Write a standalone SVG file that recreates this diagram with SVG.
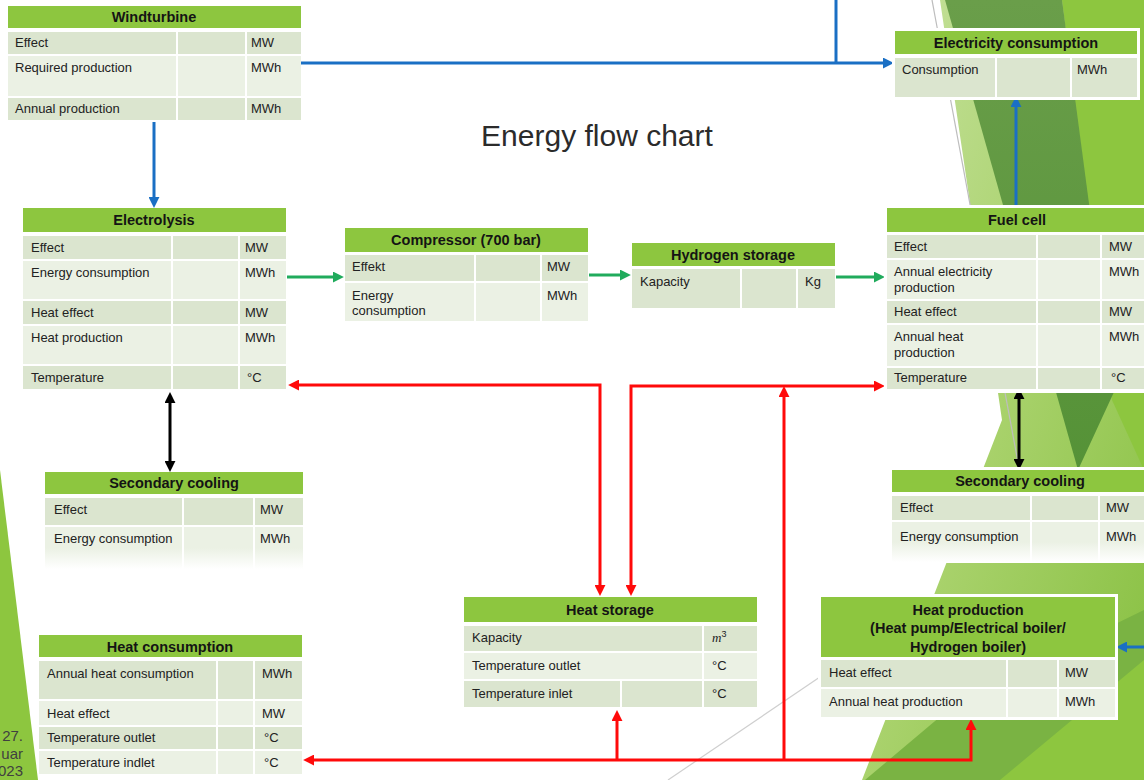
<svg xmlns="http://www.w3.org/2000/svg" width="1144" height="780" viewBox="0 0 1144 780">
  <style>
    .hdr { fill: #8dc63f; }
    .rd { fill: #dbe5cf; }
    .rl { fill: #ebf1e4; }
    .halo { fill: #ffffff; }
    .div { stroke: #ffffff; stroke-width: 2; }
    .th { font-family: "Liberation Sans", Arial, sans-serif; font-size: 14.5px; font-weight: bold; fill: #141414; text-anchor: middle; }
    .t { font-family: "Liberation Sans", Arial, sans-serif; font-size: 13px; fill: #222222; }
    .ln { fill: none; stroke-width: 3; }
    .blue { stroke: #1a6fc4; }
    .green { stroke: #20ab5c; }
    .red { stroke: #ff0a0a; }
    .black { stroke: #000000; }
  </style>
  <defs>
    <marker id="ah-blue" markerUnits="userSpaceOnUse" markerWidth="11" markerHeight="11" viewBox="0 0 10 10" refX="1" refY="5" orient="auto-start-reverse"><path d="M0,0 L10,5 L0,10 z" fill="#1a6fc4"/></marker>
    <marker id="ah-green" markerUnits="userSpaceOnUse" markerWidth="11" markerHeight="11" viewBox="0 0 10 10" refX="1" refY="5" orient="auto-start-reverse"><path d="M0,0 L10,5 L0,10 z" fill="#20ab5c"/></marker>
    <marker id="ah-red" markerUnits="userSpaceOnUse" markerWidth="11" markerHeight="11" viewBox="0 0 10 10" refX="1" refY="5" orient="auto-start-reverse"><path d="M0,0 L10,5 L0,10 z" fill="#ff0a0a"/></marker>
    <marker id="ah-black" markerUnits="userSpaceOnUse" markerWidth="11" markerHeight="11" viewBox="0 0 10 10" refX="1" refY="5" orient="auto-start-reverse"><path d="M0,0 L10,5 L0,10 z" fill="#000000"/></marker>
    <linearGradient id="facet-light" x1="0" y1="0" x2="1" y2="1">
      <stop offset="0" stop-color="#c9e3a2"/>
      <stop offset="0.5" stop-color="#a9d26c"/>
      <stop offset="1" stop-color="#86bf3f"/>
    </linearGradient>
    <linearGradient id="facet-dark" x1="0" y1="0" x2="0" y2="1">
      <stop offset="0" stop-color="#6a9e4a"/>
      <stop offset="1" stop-color="#559237"/>
    </linearGradient>
    <linearGradient id="fade-row" x1="0" y1="0" x2="0" y2="1">
      <stop offset="0" stop-color="#ebf1e4"/>
      <stop offset="0.5" stop-color="#ebf1e4"/>
      <stop offset="1" stop-color="#ebf1e4" stop-opacity="0"/>
    </linearGradient>
  </defs>

  <!-- slide background -->
  <rect x="0" y="0" width="1144" height="780" fill="#ffffff"/>
  <g id="background">
    <polygon points="940,0 1144,0 1144,780 862,780 1002,420" fill="url(#facet-light)"/>
    <polygon points="1062,0 1144,0 1144,470 1112,400" fill="#8dc63f"/>
    <polygon points="945,0 1062,0 1114,392 1078,470" fill="url(#facet-dark)"/>
    <polygon points="865,780 1144,780 1144,610 960,700" fill="#7ab343"/>
    <polygon points="1000,780 1144,780 1144,660" fill="#8dc63f"/>
    <line x1="932" y1="0" x2="1025" y2="500" stroke="#bdbdbd" stroke-width="1.2"/>
    <line x1="668" y1="780" x2="845" y2="660" stroke="#cfcfcf" stroke-width="1.2"/>
    <polygon points="0,470 38,780 0,780" fill="#8dc63f"/>
    <!-- date footer -->
    <g font-family="Liberation Sans, Arial, sans-serif" font-size="15" fill="#404040" text-anchor="end">
      <text x="23" y="741">27.</text>
      <text x="23" y="759">uar</text>
      <text x="23" y="776">023</text>
    </g>
  </g>

  <text id="title" x="597" y="146" font-family="Liberation Sans, Arial, sans-serif" font-size="30" fill="#2b2b2b" text-anchor="middle">Energy flow chart</text>

  <!-- connectors -->
  <g id="connectors">
    <path class="ln blue" d="M836,0 V63"/>
    <path class="ln blue" d="M300,63 H884" marker-end="url(#ah-blue)"/>
    <path class="ln blue" d="M154,122 V198" marker-end="url(#ah-blue)"/>
    <path class="ln blue" d="M1016,207 V106" marker-end="url(#ah-blue)"/>
    <path class="ln blue" d="M1144,647 H1126" marker-end="url(#ah-blue)"/>

    <path class="ln green" d="M287,277 H334" marker-end="url(#ah-green)"/>
    <path class="ln green" d="M589,275 H621" marker-end="url(#ah-green)"/>
    <path class="ln green" d="M836,277 H875" marker-end="url(#ah-green)"/>

    <path class="ln red" d="M298,385 H600 V586" marker-start="url(#ah-red)" marker-end="url(#ah-red)"/>
    <path class="ln red" d="M631,586 V386 H875" marker-start="url(#ah-red)" marker-end="url(#ah-red)"/>
    <path class="ln red" d="M784,760 V396" marker-end="url(#ah-red)"/>
    <path class="ln red" d="M971,729 V760 H313" marker-start="url(#ah-red)" marker-end="url(#ah-red)"/>
    <path class="ln red" d="M617,760 V720" marker-end="url(#ah-red)"/>

    <path class="ln black" d="M170,402 V462" marker-start="url(#ah-black)" marker-end="url(#ah-black)"/>
    <path class="ln black" d="M1019,398 V460" marker-start="url(#ah-black)" marker-end="url(#ah-black)"/>
  </g>

  <!-- Windturbine -->
  <g id="windturbine">
    <rect class="hdr" x="8" y="6" width="293" height="22"/>
    <rect class="rd" x="8" y="32" width="293" height="22"/>
    <rect class="rl" x="8" y="56" width="293" height="40"/>
    <rect class="rd" x="8" y="98" width="293" height="22"/>
    <line class="div" x1="177" y1="32" x2="177" y2="120"/>
    <line class="div" x1="246" y1="32" x2="246" y2="120"/>
    <text class="th" x="154" y="22">Windturbine</text>
    <text class="t" x="15" y="47">Effect</text>
    <text class="t" x="251" y="47">MW</text>
    <text class="t" x="15" y="72">Required production</text>
    <text class="t" x="251" y="72">MWh</text>
    <text class="t" x="15" y="113">Annual production</text>
    <text class="t" x="251" y="113">MWh</text>
  </g>

  <!-- Electricity consumption -->
  <g id="electricity-consumption">
    <rect class="halo" x="892" y="28" width="248" height="72"/>
    <rect class="hdr" x="895" y="31" width="242" height="23"/>
    <rect class="rd" x="895" y="58" width="242" height="39"/>
    <line class="div" x1="996" y1="58" x2="996" y2="97"/>
    <line class="div" x1="1071" y1="58" x2="1071" y2="97"/>
    <text class="th" x="1016" y="48">Electricity consumption</text>
    <text class="t" x="902" y="74">Consumption</text>
    <text class="t" x="1077" y="74">MWh</text>
  </g>

  <!-- Electrolysis -->
  <g id="electrolysis">
    <rect class="hdr" x="23" y="208" width="263" height="24"/>
    <rect class="rd" x="23" y="236" width="263" height="23"/>
    <rect class="rl" x="23" y="261" width="263" height="38"/>
    <rect class="rd" x="23" y="301" width="263" height="23"/>
    <rect class="rl" x="23" y="326" width="263" height="38"/>
    <rect class="rd" x="23" y="366" width="263" height="23"/>
    <line class="div" x1="172" y1="236" x2="172" y2="389"/>
    <line class="div" x1="239" y1="236" x2="239" y2="389"/>
    <text class="th" x="154" y="225">Electrolysis</text>
    <text class="t" x="31" y="252">Effect</text>
    <text class="t" x="245" y="252">MW</text>
    <text class="t" x="31" y="277">Energy consumption</text>
    <text class="t" x="245" y="277">MWh</text>
    <text class="t" x="31" y="317">Heat effect</text>
    <text class="t" x="245" y="317">MW</text>
    <text class="t" x="31" y="342">Heat production</text>
    <text class="t" x="245" y="342">MWh</text>
    <text class="t" x="31" y="382">Temperature</text>
    <text class="t" x="247" y="382">°C</text>
  </g>

  <!-- Compressor -->
  <g id="compressor">
    <rect class="hdr" x="345" y="228" width="243" height="24"/>
    <rect class="rd" x="345" y="255" width="243" height="26"/>
    <rect class="rl" x="345" y="283" width="243" height="38"/>
    <line class="div" x1="475" y1="255" x2="475" y2="321"/>
    <line class="div" x1="541" y1="255" x2="541" y2="321"/>
    <text class="th" x="466" y="245">Compressor (700 bar)</text>
    <text class="t" x="352" y="271">Effekt</text>
    <text class="t" x="547" y="271">MW</text>
    <text class="t" x="352" y="300">Energy</text>
    <text class="t" x="352" y="315">consumption</text>
    <text class="t" x="547" y="300">MWh</text>
  </g>

  <!-- Hydrogen storage -->
  <g id="hydrogen-storage">
    <rect class="hdr" x="632" y="243" width="203" height="23"/>
    <rect class="rd" x="632" y="269" width="203" height="39"/>
    <line class="div" x1="741" y1="269" x2="741" y2="308"/>
    <line class="div" x1="797" y1="269" x2="797" y2="308"/>
    <text class="th" x="733" y="260">Hydrogen storage</text>
    <text class="t" x="640" y="286">Kapacity</text>
    <text class="t" x="805" y="286">Kg</text>
  </g>

  <!-- Fuel cell -->
  <g id="fuel-cell">
    <rect class="halo" x="884" y="205" width="266" height="188"/>
    <rect class="hdr" x="887" y="208" width="263" height="24"/>
    <rect class="rd" x="887" y="235" width="263" height="23"/>
    <rect class="rl" x="887" y="260" width="263" height="39"/>
    <rect class="rd" x="887" y="301" width="263" height="22"/>
    <rect class="rl" x="887" y="325" width="263" height="41"/>
    <rect class="rd" x="887" y="368" width="263" height="21"/>
    <line class="div" x1="1037" y1="235" x2="1037" y2="389"/>
    <line class="div" x1="1101" y1="235" x2="1101" y2="389"/>
    <text class="th" x="1017" y="225">Fuel cell</text>
    <text class="t" x="894" y="251">Effect</text>
    <text class="t" x="1109" y="251">MW</text>
    <text class="t" x="894" y="276">Annual electricity</text>
    <text class="t" x="894" y="292">production</text>
    <text class="t" x="1109" y="276">MWh</text>
    <text class="t" x="894" y="316">Heat effect</text>
    <text class="t" x="1109" y="316">MW</text>
    <text class="t" x="894" y="341">Annual heat</text>
    <text class="t" x="894" y="357">production</text>
    <text class="t" x="1109" y="341">MWh</text>
    <text class="t" x="894" y="382">Temperature</text>
    <text class="t" x="1111" y="382">°C</text>
  </g>

  <!-- Secondary cooling (electrolysis side) -->
  <g id="secondary-cooling-left">
    <rect class="hdr" x="45" y="472" width="258" height="22"/>
    <rect class="rd" x="45" y="498" width="258" height="27"/>
    <rect x="45" y="527" width="258" height="42" fill="url(#fade-row)"/>
    <line class="div" x1="183" y1="498" x2="183" y2="569"/>
    <line class="div" x1="254" y1="498" x2="254" y2="569"/>
    <text class="th" x="174" y="488">Secondary cooling</text>
    <text class="t" x="54" y="514">Effect</text>
    <text class="t" x="260" y="514">MW</text>
    <text class="t" x="54" y="543">Energy consumption</text>
    <text class="t" x="260" y="543">MWh</text>
  </g>

  <!-- Secondary cooling (fuel cell side) -->
  <g id="secondary-cooling-right">
    <rect class="halo" x="889" y="467" width="261" height="96"/>
    <rect class="hdr" x="892" y="470" width="258" height="22"/>
    <rect class="rd" x="892" y="496" width="258" height="24"/>
    <rect x="892" y="522" width="258" height="40" fill="url(#fade-row)"/>
    <line class="div" x1="1031" y1="496" x2="1031" y2="562"/>
    <line class="div" x1="1099" y1="496" x2="1099" y2="562"/>
    <text class="th" x="1020" y="486">Secondary cooling</text>
    <text class="t" x="900" y="512">Effect</text>
    <text class="t" x="1106" y="512">MW</text>
    <text class="t" x="900" y="541">Energy consumption</text>
    <text class="t" x="1106" y="541">MWh</text>
  </g>

  <!-- Heat storage -->
  <g id="heat-storage">
    <rect class="hdr" x="464" y="597" width="293" height="25"/>
    <rect class="rd" x="464" y="626" width="293" height="25"/>
    <rect class="rl" x="464" y="653" width="293" height="26"/>
    <rect class="rd" x="464" y="681" width="293" height="26"/>
    <line class="div" x1="703" y1="626" x2="703" y2="707"/>
    <line class="div" x1="621" y1="681" x2="621" y2="707"/>
    <text class="th" x="610" y="615">Heat storage</text>
    <text class="t" x="472" y="642">Kapacity</text>
    <text class="t" x="712" y="642"><tspan font-family="Liberation Serif, serif" font-style="italic">m</tspan><tspan dy="-5" font-size="9">3</tspan></text>
    <text class="t" x="472" y="670">Temperature outlet</text>
    <text class="t" x="712" y="670">°C</text>
    <text class="t" x="472" y="698">Temperature inlet</text>
    <text class="t" x="712" y="698">°C</text>
  </g>

  <!-- Heat production -->
  <g id="heat-production">
    <rect class="halo" x="818" y="594" width="300" height="126"/>
    <rect class="hdr" x="821" y="597" width="294" height="60"/>
    <rect class="rd" x="821" y="660" width="294" height="27"/>
    <rect class="rl" x="821" y="689" width="294" height="28"/>
    <line class="div" x1="1007" y1="660" x2="1007" y2="717"/>
    <line class="div" x1="1058" y1="660" x2="1058" y2="717"/>
    <text class="th" x="968" y="615">Heat production</text>
    <text class="th" x="968" y="633">(Heat pump/Electrical boiler/</text>
    <text class="th" x="968" y="652">Hydrogen boiler)</text>
    <text class="t" x="829" y="677">Heat effect</text>
    <text class="t" x="1065" y="677">MW</text>
    <text class="t" x="829" y="706">Annual heat production</text>
    <text class="t" x="1065" y="706">MWh</text>
  </g>

  <!-- Heat consumption -->
  <g id="heat-consumption">
    <rect class="hdr" x="39" y="635" width="263" height="22"/>
    <rect class="rd" x="39" y="661" width="263" height="38"/>
    <rect class="rl" x="39" y="701" width="263" height="24"/>
    <rect class="rd" x="39" y="727" width="263" height="22"/>
    <rect class="rl" x="39" y="751" width="263" height="23"/>
    <line class="div" x1="217" y1="661" x2="217" y2="774"/>
    <line class="div" x1="254" y1="661" x2="254" y2="774"/>
    <text class="th" x="170" y="652">Heat consumption</text>
    <text class="t" x="47" y="678">Annual heat consumption</text>
    <text class="t" x="262" y="678">MWh</text>
    <text class="t" x="47" y="718">Heat effect</text>
    <text class="t" x="262" y="718">MW</text>
    <text class="t" x="47" y="742">Temperature outlet</text>
    <text class="t" x="264" y="742">°C</text>
    <text class="t" x="47" y="767">Temperature indlet</text>
    <text class="t" x="264" y="767">°C</text>
  </g>
</svg>
